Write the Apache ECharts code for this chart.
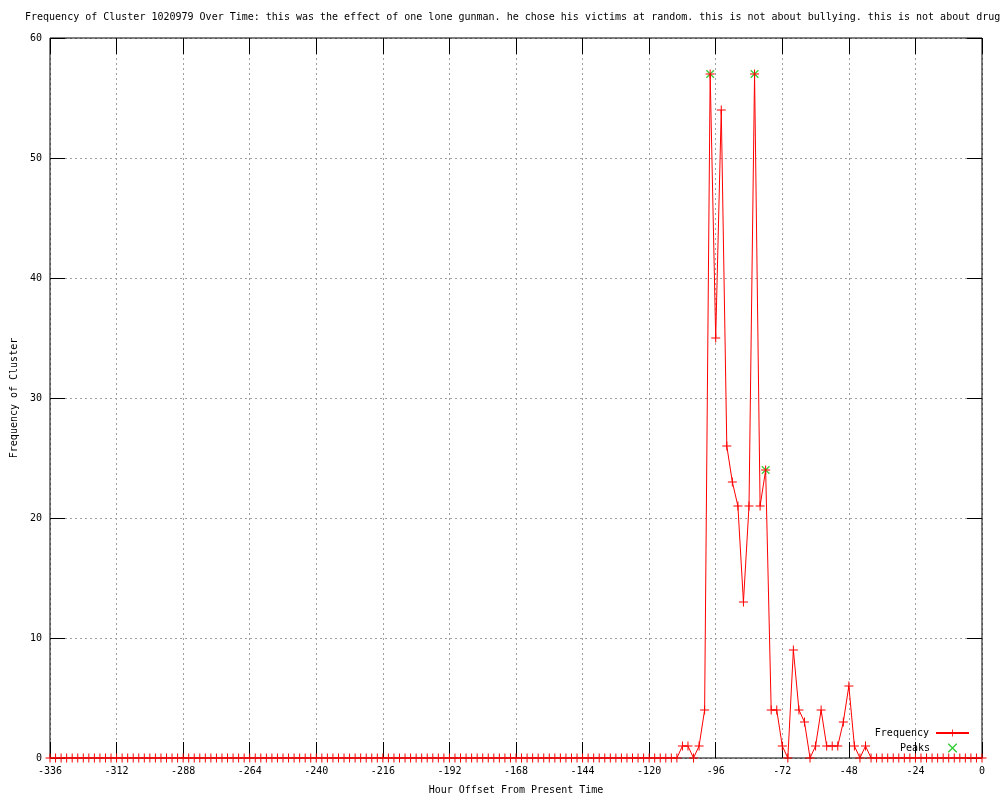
<!DOCTYPE html>
<html>
<head>
<meta charset="utf-8">
<script src="https://cdn.jsdelivr.net/npm/echarts@6/dist/echarts.min.js"></script>
<style>
  html, body { margin: 0; padding: 0; background: #fff; }
  #chart { width: 1000px; height: 800px; }
</style>
</head>
<body>
<div id="chart"></div>
<script>
// hour offsets (every 2 hours)
var hours = [
  -336,-334,-332,-330,-328,-326,-324,-322,-320,-318,-316,-314,
  -312,-310,-308,-306,-304,-302,-300,-298,-296,-294,-292,-290,
  -288,-286,-284,-282,-280,-278,-276,-274,-272,-270,-268,-266,
  -264,-262,-260,-258,-256,-254,-252,-250,-248,-246,-244,-242,
  -240,-238,-236,-234,-232,-230,-228,-226,-224,-222,-220,-218,
  -216,-214,-212,-210,-208,-206,-204,-202,-200,-198,-196,-194,
  -192,-190,-188,-186,-184,-182,-180,-178,-176,-174,-172,-170,
  -168,-166,-164,-162,-160,-158,-156,-154,-152,-150,-148,-146,
  -144,-142,-140,-138,-136,-134,-132,-130,-128,-126,-124,-122,
  -120,-118,-116,-114,-112,-110,-108,-106,-104,-102,-100,-98,
  -96,-94,-92,-90,-88,-86,-84,-82,-80,-78,-76,-74,
  -72,-70,-68,-66,-64,-62,-60,-58,-56,-54,-52,-50,
  -48,-46,-44,-42,-40,-38,-36,-34,-32,-30,-28,-26,
  -24,-22,-20,-18,-16,-14,-12,-10,-8,-6,-4,-2,0
];
var frequency = [
  0,0,0,0,0,0,0,0,0,0,0,0,
  0,0,0,0,0,0,0,0,0,0,0,0,
  0,0,0,0,0,0,0,0,0,0,0,0,
  0,0,0,0,0,0,0,0,0,0,0,0,
  0,0,0,0,0,0,0,0,0,0,0,0,
  0,0,0,0,0,0,0,0,0,0,0,0,
  0,0,0,0,0,0,0,0,0,0,0,0,
  0,0,0,0,0,0,0,0,0,0,0,0,
  0,0,0,0,0,0,0,0,0,0,0,0,
  0,0,0,0,0,0,1,1,0,1,4,57,
  35,54,26,23,21,13,21,57,21,24,4,4,
  1,0,9,4,3,0,1,4,1,1,1,3,
  6,1,0,1,0,0,0,0,0,0,0,0,
  0,0,0,0,0,0,0,0,0,0,0,0,0
];
var peakHours = [-98, -82, -78];
var peakValues = [57, 57, 24];

var font = 'DejaVu Sans Mono';
var plusPath = 'path://M0,4h9v1h-9z M4,0h1v9h-1z';
var crossPath = 'path://M0,0L1,0L9,8L9,9L8,9L0,1Z M8,0L9,0L9,1L1,9L0,9L0,8Z';

var chart = echarts.init(document.getElementById('chart'));
var option = {
  animation: false,
  backgroundColor: '#fff',
  title: {
    text: 'Frequency of Cluster 1020979 Over Time: this was the effect of one lone gunman. he chose his victims at random. this is not about bullying. this is not about drugs.',
    left: 25, top: 12, padding: 0,
    textStyle: { fontFamily: font, fontSize: 10, fontWeight: 'normal', color: '#000' }
  },
  legend: [{
    data: ['Frequency'],
    right: 30, top: 728, padding: 0,
    align: 'right',
    itemWidth: 33, itemHeight: 9,
    textStyle: { fontFamily: font, fontSize: 10, color: '#000', padding: [0, 2, 0, 0] }
  }, {
    data: ['Peaks'],
    right: 43, top: 743, padding: 0,
    align: 'right',
    itemWidth: 9, itemHeight: 9,
    textStyle: { fontFamily: font, fontSize: 10, color: '#000', padding: [0, 13, 0, 0] }
  }],
  grid: {
    left: 50, right: 18, top: 38, bottom: 40,
    show: true, z: 3,
    borderColor: '#000', borderWidth: 1,
    backgroundColor: 'transparent'
  },
  xAxis: [{
    type: 'value', position: 'bottom',
    min: -336, max: 0, interval: 24,
    name: 'Hour Offset From Present Time',
    nameLocation: 'middle', nameGap: 27,
    nameTextStyle: { fontFamily: font, fontSize: 10, color: '#000' },
    axisLine: { show: false, onZero: false },
    axisTick: { show: true, inside: true, length: 16, lineStyle: { color: '#000' } },
    axisLabel: { fontFamily: font, fontSize: 10, color: '#000', margin: 8 },
    splitLine: { show: true, lineStyle: { color: '#a0a0a0', type: [2, 3], width: 1 } }
  }, {
    type: 'value', position: 'top',
    min: -336, max: 0, interval: 24,
    axisLine: { show: false, onZero: false },
    axisTick: { show: true, inside: true, length: 16, lineStyle: { color: '#000' } },
    axisLabel: { show: false },
    splitLine: { show: false }
  }],
  yAxis: [{
    type: 'value', position: 'left',
    min: 0, max: 60, interval: 10,
    name: 'Frequency of Cluster',
    nameLocation: 'middle', nameGap: 31,
    nameTextStyle: { fontFamily: font, fontSize: 10, color: '#000' },
    axisLine: { show: false, onZero: false },
    axisTick: { show: true, inside: true, length: 15, lineStyle: { color: '#000' } },
    axisLabel: { fontFamily: font, fontSize: 10, color: '#000', margin: 8 },
    splitLine: { show: true, lineStyle: { color: '#a0a0a0', type: [2, 3], width: 1 } }
  }, {
    type: 'value', position: 'right',
    min: 0, max: 60, interval: 10,
    axisLine: { show: false, onZero: false },
    axisTick: { show: true, inside: true, length: 15, lineStyle: { color: '#000' } },
    axisLabel: { show: false },
    splitLine: { show: false }
  }],
  series: [{
    name: 'Frequency',
    type: 'line',
    data: hours.map(function (h, i) { return [h, frequency[i]]; }),
    symbol: plusPath,
    symbolSize: 9,
    showAllSymbol: true,
    lineStyle: { color: '#ff0000', width: 1 },
    itemStyle: { color: '#ff0000' },
    emphasis: { disabled: true }
  }, {
    name: 'Peaks',
    type: 'scatter',
    data: peakHours.map(function (h, i) { return [h, peakValues[i]]; }),
    symbol: crossPath,
    symbolSize: 8,
    itemStyle: { color: '#00c000' },
    emphasis: { disabled: true }
  }]
};
chart.setOption(option);
</script>
</body>
</html>
